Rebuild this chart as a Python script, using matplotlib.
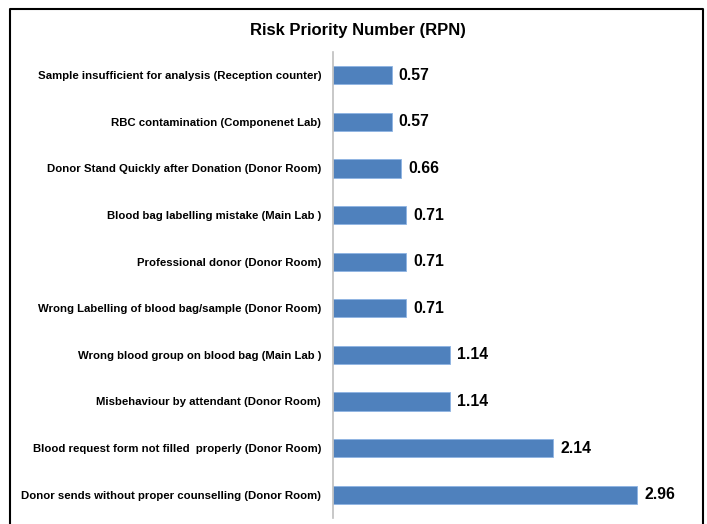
import matplotlib
matplotlib.use("Agg")
import matplotlib.pyplot as plt
from matplotlib.lines import Line2D

categories = [
    "Sample insufficient for analysis (Reception counter)",
    "RBC contamination (Componenet Lab)",
    "Donor Stand Quickly after Donation (Donor Room)",
    "Blood bag labelling mistake (Main Lab )",
    "Professional donor (Donor Room)",
    "Wrong Labelling of blood bag/sample (Donor Room)",
    "Wrong blood group on blood bag (Main Lab )",
    "Misbehaviour by attendant (Donor Room)",
    "Blood request form not filled  properly (Donor Room)",
    "Donor sends without proper counselling (Donor Room)",
]
rpn = [0.57, 0.57, 0.66, 0.71, 0.71, 0.71, 1.14, 1.14, 2.14, 2.96]

plt.rcParams["font.family"] = ["Liberation Sans", "DejaVu Sans"]

W, H = 707, 524
fig = plt.figure(figsize=(W / 100, H / 100), dpi=100)
ax = fig.add_axes([333 / W, 1 - 518 / H, (700 - 333) / W, (518 - 52) / H])

ypos = list(range(len(categories)))
ax.barh(ypos, rpn, height=0.39, color="#4F81BD", edgecolor="#8EB4E3", linewidth=0.6)
ax.set_ylim(len(categories) - 0.5, -0.5)
ax.set_xlim(0, 3.57)
ax.set_yticks(ypos)
ax.set_yticklabels(categories, fontsize=8.2, fontweight="bold")
ax.tick_params(axis="y", length=0, pad=8.5)
ax.set_xticks([])

for y, v in zip(ypos, rpn):
    ax.text(v + 0.07, y, f"{v:.2f}", va="center", ha="left",
            fontsize=11.3, fontweight="bold", color="black")

for side in ("top", "right", "bottom"):
    ax.spines[side].set_visible(False)
ax.spines["left"].set_color("#BFBFBF")
ax.spines["left"].set_linewidth(1.2)

fig.text(358 / W, 1 - 30 / H, "Risk Priority Number (RPN)", ha="center", va="center",
         fontsize=12, fontweight="bold")

# outer frame of the chart area (bottom edge is cut off in the original)
fig.add_artist(Line2D([10 / W, 10 / W, 703 / W, 703 / W],
                      [0, 1 - 9 / H, 1 - 9 / H, 0],
                      transform=fig.transFigure, color="black", linewidth=1.5))

fig.savefig("out.png", dpi=100)
